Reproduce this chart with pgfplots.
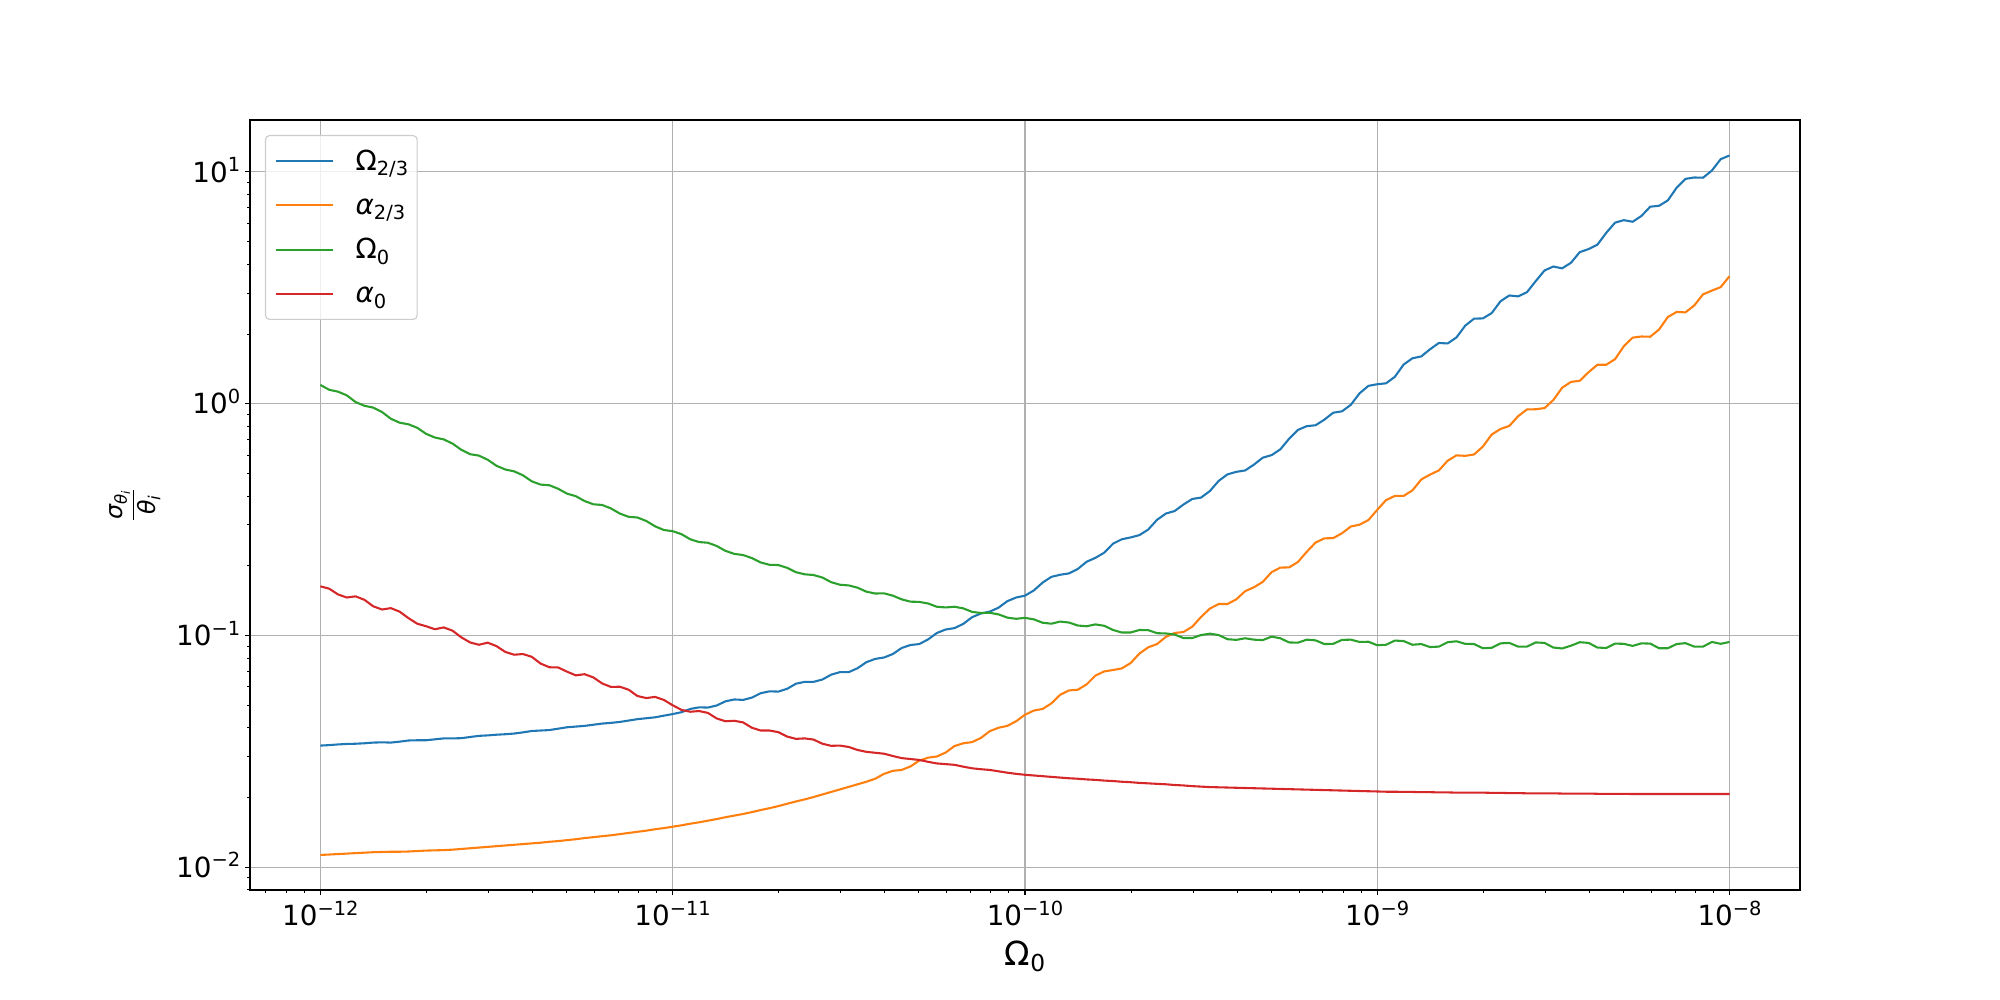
\documentclass[border=0pt]{standalone}
\usepackage{fontspec}
\setmainfont{DejaVu Sans}
\usepackage{amsmath}
\usepackage{pgfplots}
\pgfplotsset{compat=1.18}
\usepackage{pgfplotstable}

\definecolor{mplblue}{HTML}{1F77B4}
\definecolor{mplorange}{HTML}{FF7F0E}
\definecolor{mplgreen}{HTML}{2CA02C}
\definecolor{mplred}{HTML}{D62728}
\definecolor{gridgray}{HTML}{B0B0B0}
\definecolor{legedge}{HTML}{CCCCCC}

% mathtext-like super/subscripts in the text font
\newcommand{\msup}[1]{\raisebox{0.38em}{\fontsize{14}{14}\selectfont #1}}
\newcommand{\msub}[2][14]{\raisebox{-0.19em}{\fontsize{#1}{#1}\selectfont #2}}

% log10 of x and of sigma/theta for each series
\pgfplotstableread{
lx      blue   orange  green  red
-12.000 -1.475 -1.947  0.081 -0.788
-11.975 -1.473 -1.945  0.060 -0.798
-11.950 -1.470 -1.943  0.052 -0.823
-11.925 -1.468 -1.941  0.036 -0.836
-11.900 -1.467 -1.939  0.007 -0.831
-11.875 -1.465 -1.937 -0.009 -0.846
-11.850 -1.462 -1.935 -0.017 -0.874
-11.825 -1.461 -1.934 -0.036 -0.888
-11.800 -1.462 -1.933 -0.065 -0.882
-11.775 -1.458 -1.933 -0.082 -0.897
-11.750 -1.453 -1.932 -0.089 -0.925
-11.725 -1.452 -1.930 -0.104 -0.949
-11.700 -1.452 -1.928 -0.130 -0.960
-11.675 -1.448 -1.927 -0.146 -0.973
-11.650 -1.444 -1.926 -0.154 -0.965
-11.625 -1.444 -1.924 -0.172 -0.979
-11.600 -1.443 -1.921 -0.199 -1.008
-11.575 -1.438 -1.918 -0.218 -1.030
-11.550 -1.433 -1.915 -0.224 -1.040
-11.525 -1.431 -1.912 -0.242 -1.031
-11.500 -1.428 -1.909 -0.268 -1.046
-11.475 -1.426 -1.906 -0.284 -1.071
-11.450 -1.423 -1.903 -0.292 -1.083
-11.425 -1.418 -1.900 -0.309 -1.080
-11.400 -1.412 -1.897 -0.335 -1.092
-11.375 -1.410 -1.894 -0.349 -1.121
-11.350 -1.408 -1.890 -0.352 -1.137
-11.325 -1.402 -1.887 -0.367 -1.138
-11.300 -1.396 -1.883 -0.388 -1.156
-11.275 -1.393 -1.879 -0.399 -1.172
-11.250 -1.390 -1.874 -0.420 -1.167
-11.225 -1.385 -1.870 -0.434 -1.181
-11.200 -1.380 -1.866 -0.437 -1.207
-11.175 -1.377 -1.862 -0.452 -1.222
-11.150 -1.373 -1.857 -0.474 -1.221
-11.125 -1.367 -1.852 -0.488 -1.234
-11.100 -1.361 -1.847 -0.491 -1.261
-11.075 -1.357 -1.842 -0.506 -1.270
-11.050 -1.353 -1.836 -0.529 -1.265
-11.025 -1.346 -1.831 -0.545 -1.278
-11.000 -1.339 -1.825 -0.550 -1.301
-10.975 -1.331 -1.819 -0.563 -1.321
-10.950 -1.317 -1.812 -0.585 -1.329
-10.925 -1.310 -1.806 -0.597 -1.326
-10.900 -1.311 -1.799 -0.600 -1.334
-10.875 -1.302 -1.792 -0.614 -1.358
-10.850 -1.284 -1.784 -0.635 -1.370
-10.825 -1.276 -1.777 -0.648 -1.368
-10.800 -1.278 -1.770 -0.653 -1.375
-10.775 -1.268 -1.762 -0.666 -1.398
-10.750 -1.249 -1.753 -0.685 -1.410
-10.725 -1.241 -1.745 -0.695 -1.410
-10.700 -1.242 -1.736 -0.696 -1.417
-10.675 -1.230 -1.726 -0.708 -1.436
-10.650 -1.208 -1.716 -0.727 -1.446
-10.625 -1.200 -1.707 -0.736 -1.444
-10.600 -1.200 -1.697 -0.739 -1.449
-10.575 -1.190 -1.686 -0.750 -1.467
-10.550 -1.169 -1.675 -0.770 -1.476
-10.525 -1.158 -1.664 -0.781 -1.475
-10.500 -1.158 -1.653 -0.784 -1.481
-10.475 -1.141 -1.642 -0.794 -1.494
-10.450 -1.115 -1.631 -0.811 -1.502
-10.425 -1.101 -1.618 -0.819 -1.506
-10.400 -1.095 -1.597 -0.818 -1.510
-10.375 -1.080 -1.584 -0.828 -1.520
-10.350 -1.054 -1.580 -0.844 -1.529
-10.325 -1.041 -1.565 -0.854 -1.533
-10.300 -1.037 -1.540 -0.855 -1.537
-10.275 -1.017 -1.527 -0.862 -1.545
-10.250 -0.989 -1.522 -0.876 -1.552
-10.225 -0.974 -1.505 -0.879 -1.555
-10.200 -0.968 -1.477 -0.876 -1.558
-10.175 -0.950 -1.465 -0.883 -1.566
-10.150 -0.921 -1.460 -0.898 -1.573
-10.125 -0.905 -1.442 -0.903 -1.577
-10.100 -0.897 -1.413 -0.902 -1.580
-10.075 -0.880 -1.398 -0.909 -1.586
-10.050 -0.852 -1.390 -0.923 -1.592
-10.025 -0.836 -1.370 -0.928 -1.597
-10.000 -0.828 -1.342 -0.924 -1.601
-9.975  -0.806 -1.324 -0.930 -1.604
-9.950  -0.772 -1.317 -0.945 -1.607
-9.925  -0.747 -1.293 -0.949 -1.610
-9.900  -0.738 -1.256 -0.940 -1.613
-9.875  -0.732 -1.237 -0.944 -1.616
-9.850  -0.713 -1.234 -0.957 -1.618
-9.825  -0.682 -1.211 -0.960 -1.621
-9.800  -0.665 -1.173 -0.952 -1.623
-9.775  -0.643 -1.155 -0.958 -1.626
-9.750  -0.604 -1.149 -0.976 -1.628
-9.725  -0.585 -1.142 -0.987 -1.631
-9.700  -0.577 -1.119 -0.987 -1.633
-9.675  -0.567 -1.078 -0.976 -1.636
-9.650  -0.543 -1.051 -0.977 -1.638
-9.625  -0.501 -1.037 -0.990 -1.640
-9.600  -0.474 -1.006 -0.991 -1.642
-9.575  -0.463 -0.989 -0.996 -1.645
-9.550  -0.435 -0.985 -1.011 -1.647
-9.525  -0.411 -0.962 -1.011 -1.650
-9.500  -0.405 -0.920 -0.998 -1.652
-9.475  -0.377 -0.884 -0.992 -1.654
-9.450  -0.333 -0.864 -0.998 -1.655
-9.425  -0.305 -0.864 -1.016 -1.656
-9.400  -0.294 -0.844 -1.019 -1.657
-9.375  -0.288 -0.809 -1.012 -1.658
-9.350  -0.263 -0.792 -1.018 -1.659
-9.325  -0.233 -0.769 -1.020 -1.660
-9.300  -0.222 -0.727 -1.005 -1.661
-9.275  -0.197 -0.707 -1.012 -1.662
-9.250  -0.151 -0.706 -1.030 -1.663
-9.225  -0.113 -0.683 -1.031 -1.664
-9.200  -0.097 -0.639 -1.018 -1.665
-9.175  -0.093 -0.599 -1.021 -1.666
-9.150  -0.069 -0.581 -1.037 -1.667
-9.125  -0.039 -0.580 -1.036 -1.668
-9.100  -0.033 -0.559 -1.019 -1.669
-9.075  -0.005 -0.530 -1.018 -1.670
-9.050   0.045 -0.522 -1.028 -1.671
-9.025   0.077 -0.502 -1.027 -1.672
-9.000   0.084 -0.458 -1.042 -1.673
-8.975   0.088 -0.416 -1.040 -1.674
-8.950   0.116 -0.398 -1.022 -1.674
-8.925   0.169 -0.398 -1.024 -1.675
-8.900   0.196 -0.374 -1.040 -1.675
-8.875   0.204 -0.327 -1.037 -1.676
-8.850   0.235 -0.306 -1.050 -1.676
-8.825   0.262 -0.288 -1.048 -1.677
-8.800   0.260 -0.246 -1.029 -1.677
-8.775   0.286 -0.223 -1.025 -1.678
-8.750   0.337 -0.225 -1.036 -1.678
-8.725   0.367 -0.219 -1.037 -1.678
-8.700   0.368 -0.185 -1.055 -1.678
-8.675   0.391 -0.133 -1.053 -1.679
-8.650   0.442 -0.109 -1.034 -1.679
-8.625   0.467 -0.096 -1.032 -1.680
-8.600   0.463 -0.054 -1.048 -1.680
-8.575   0.481 -0.025 -1.048 -1.681
-8.550   0.529 -0.024 -1.030 -1.681
-8.525   0.575 -0.019 -1.032 -1.681
-8.500   0.592  0.016 -1.052 -1.681
-8.475   0.584  0.069 -1.056 -1.682
-8.450   0.608  0.094 -1.044 -1.682
-8.425   0.654  0.099 -1.029 -1.682
-8.400   0.667  0.136 -1.032 -1.682
-8.375   0.686  0.168 -1.052 -1.683
-8.350   0.737  0.168 -1.054 -1.683
-8.325   0.781  0.192 -1.035 -1.683
-8.300   0.792  0.248 -1.036 -1.683
-8.275   0.785  0.285 -1.045 -1.684
-8.250   0.810  0.290 -1.034 -1.684
-8.225   0.850  0.289 -1.035 -1.684
-8.200   0.854  0.320 -1.055 -1.684
-8.175   0.877  0.374 -1.055 -1.684
-8.150   0.932  0.396 -1.037 -1.684
-8.125   0.970  0.394 -1.033 -1.684
-8.100   0.976  0.424 -1.048 -1.684
-8.075   0.975  0.472 -1.048 -1.684
-8.050   1.006  0.488 -1.028 -1.684
-8.025   1.055  0.503 -1.036 -1.684
-8.000   1.071  0.550 -1.028 -1.684
}\datatable

\begin{document}
\begin{tikzpicture}
\useasboundingbox (0,0) rectangle (1440pt,720pt);
\begin{axis}[
    at={(180pt,79.2pt)}, anchor=south west,
    scale only axis,
    width=1116pt, height=554.4pt,
    xmode=log, ymode=log,
    xmin=6.31e-13, xmax=1.585e-8,
    ymin=7.98e-3, ymax=16.75,
    xtick={1e-12,1e-11,1e-10,1e-9,1e-8},
    xticklabels={10\msup{−12},10\msup{−11},10\msup{−10},10\msup{−9},10\msup{−8}},
    minor xtick={7e-13,8e-13,9e-13,
        2e-12,3e-12,4e-12,5e-12,6e-12,7e-12,8e-12,9e-12,
        2e-11,3e-11,4e-11,5e-11,6e-11,7e-11,8e-11,9e-11,
        2e-10,3e-10,4e-10,5e-10,6e-10,7e-10,8e-10,9e-10,
        2e-9,3e-9,4e-9,5e-9,6e-9,7e-9,8e-9,9e-9},
    ytick={1e-2,1e-1,1,10},
    yticklabels={10\msup{−2},10\msup{−1},10\msup{0},10\msup{1}},
    minor ytick={8e-3,9e-3,
        2e-2,3e-2,4e-2,5e-2,6e-2,7e-2,8e-2,9e-2,
        0.2,0.3,0.4,0.5,0.6,0.7,0.8,0.9,
        2,3,4,5,6,7,8,9},
    tick align=outside,
    tick pos=left,
    major tick length=3.5pt,
    minor tick length=2pt,
    major tick style={black, line width=0.8pt},
    minor tick style={black, line width=0.6pt},
    axis line style={black, line width=0.8pt},
    grid=major,
    major grid style={gridgray, line width=0.8pt},
    tick label style={font=\fontsize{20}{24}\selectfont},
    xticklabel style={anchor=base, yshift=-22.2pt},
    yticklabel style={anchor=base east, yshift=-7.3pt},
    xlabel={\fontsize{24}{28}\selectfont Ω\msub[16.8]{0}},
    xlabel style={at={(axis description cs:0.5,0)}, anchor=base, yshift=-54pt},
    ylabel={\fontsize{17}{20}\selectfont $\dfrac{\text{\itshape σ}_{\text{\itshape θ}_{\text{\itshape i}}}}{\text{\itshape θ}_{\text{\itshape i}}}$},
    ylabel style={at={(axis description cs:-0.0742,0.5)}, anchor=center},
    legend cell align=left,
    legend image code/.code={\draw[#1] (0pt,0pt) -- (41.5pt,0pt);},
    legend style={at={(axis description cs:0,1)}, anchor=north west,
        xshift=10.8pt, yshift=-10.8pt,
        draw=legedge, line width=0.8pt, rounded corners=3pt,
        fill=white, fill opacity=0.8, text opacity=1,
        font=\fontsize{20}{24}\selectfont,
        inner xsep=6.5pt, inner ysep=8.9pt,
        row sep=12.6pt, column sep=0pt,
        nodes={inner sep=0pt, text height=16.2pt, text depth=3pt},
    },
    every axis plot/.append style={line width=1.5pt, line join=round},
]
\addplot[mplblue] table[x expr={10^(\thisrow{lx})}, y expr={10^(\thisrow{blue})}] {\datatable};
\addlegendentry{\hspace{15.4pt}Ω\msub{2/3}}
\addplot[mplorange] table[x expr={10^(\thisrow{lx})}, y expr={10^(\thisrow{orange})}] {\datatable};
\addlegendentry{\hspace{15.4pt}\textit{α}\msub{2/3}}
\addplot[mplgreen] table[x expr={10^(\thisrow{lx})}, y expr={10^(\thisrow{green})}] {\datatable};
\addlegendentry{\hspace{15.4pt}Ω\msub{0}}
\addplot[mplred] table[x expr={10^(\thisrow{lx})}, y expr={10^(\thisrow{red})}] {\datatable};
\addlegendentry{\hspace{15.4pt}\textit{α}\msub{0}}
\end{axis}
\end{tikzpicture}
\end{document}
